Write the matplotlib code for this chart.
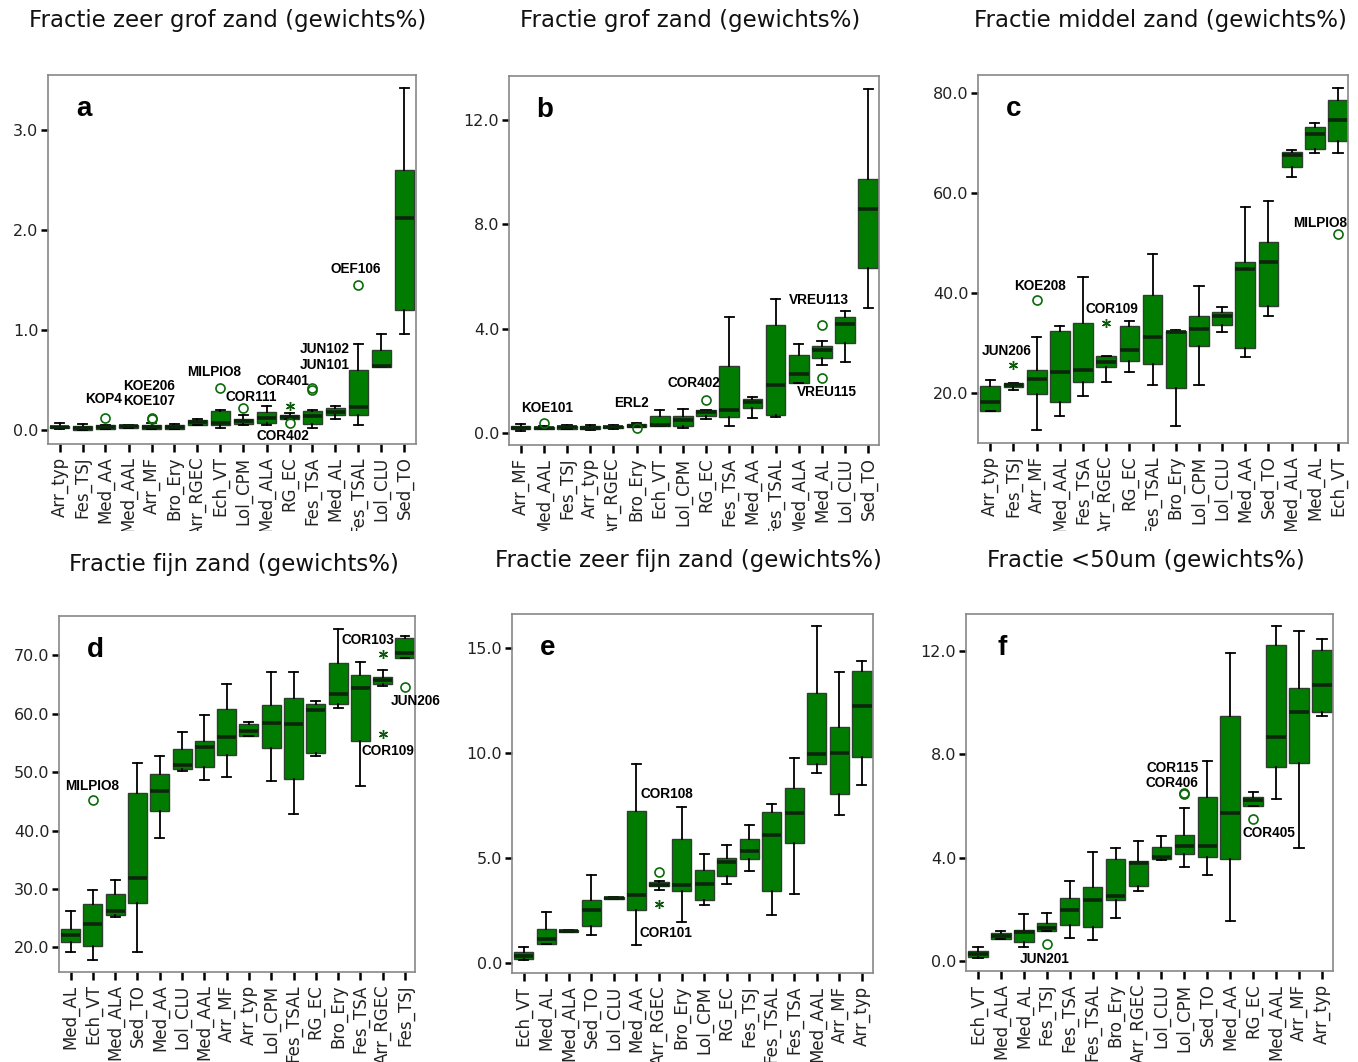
import matplotlib
matplotlib.use("Agg")
import matplotlib.pyplot as plt
from matplotlib.ticker import FormatStrFormatter
from matplotlib.transforms import Bbox

# ---- panel a: zeer grof zand ----
a_names = ["Arr_typ", "Fes_TSJ", "Med_AA", "Med_AAL", "Arr_MF", "Bro_Ery", "Arr_RGEC", "Ech_VT",
           "Lol_CPM", "Med_ALA", "RG_EC", "Fes_TSA", "Med_AL", "Fes_TSAL", "Lol_CLU", "Sed_TO"]
a_lo = [0.01, 0.0, 0.015, 0.02, 0.015, 0.015, 0.057, 0.02, 0.057, 0.053, 0.11, 0.02, 0.117, 0.057, 0.63, 0.963]
a_q1 = [0.02, 0.003, 0.017, 0.02, 0.017, 0.017, 0.057, 0.05, 0.06, 0.077, 0.113, 0.067, 0.157, 0.157, 0.63, 1.2]
a_med = [0.035, 0.02, 0.035, 0.04, 0.035, 0.035, 0.085, 0.077, 0.097, 0.12, 0.137, 0.143, 0.187, 0.23, 0.647, 2.123]
a_q3 = [0.045, 0.043, 0.05, 0.053, 0.05, 0.05, 0.103, 0.193, 0.117, 0.187, 0.157, 0.197, 0.227, 0.607, 0.8, 2.607]
a_hi = [0.07, 0.063, 0.055, 0.055, 0.07, 0.067, 0.117, 0.203, 0.157, 0.247, 0.17, 0.203, 0.247, 0.86, 0.963, 3.423]
a_out = [("Med_AA", 0.12, "o", "KOP4"), ("Arr_MF", 0.12, "o", "KOE206\nKOE107"), ("Arr_MF", 0.11, "o", ""),
         ("Ech_VT", 0.423, "o", "MILPIO8"), ("Lol_CPM", 0.223, "o", "COR111"),
         ("RG_EC", 0.243, "*", "COR401"), ("RG_EC", 0.07, "o", "COR402"),
         ("Fes_TSA", 0.423, "o", "JUN102\nJUN101"), ("Fes_TSA", 0.403, "o", ""),
         ("Fes_TSAL", 1.453, "o", "OEF106")]

# ---- panel b: grof zand ----
b_names = ["Arr_MF", "Med_AAL", "Fes_TSJ", "Arr_typ", "Arr_RGEC", "Bro_Ery", "Ech_VT", "Lol_CPM",
           "RG_EC", "Fes_TSA", "Med_AA", "Fes_TSAL", "Med_ALA", "Med_AL", "Lol_CLU", "Sed_TO"]
b_lo = [0.09, 0.14, 0.14, 0.13, 0.14, 0.24, 0.28, 0.18, 0.52, 0.27, 0.56, 0.6, 1.9, 2.59, 2.72, 4.77]
b_q1 = [0.15, 0.17, 0.17, 0.15, 0.18, 0.24, 0.28, 0.27, 0.65, 0.6, 0.94, 0.69, 1.93, 2.86, 3.43, 6.3]
b_med = [0.2, 0.2, 0.22, 0.2, 0.22, 0.28, 0.32, 0.51, 0.79, 0.88, 1.2, 1.82, 2.26, 3.16, 4.17, 8.58]
b_q3 = [0.28, 0.24, 0.27, 0.28, 0.27, 0.33, 0.66, 0.65, 0.87, 2.58, 1.3, 4.13, 2.97, 3.33, 4.44, 9.74]
b_hi = [0.33, 0.27, 0.32, 0.3, 0.32, 0.37, 0.87, 0.92, 0.88, 4.44, 1.39, 5.13, 3.41, 3.52, 4.68, 13.16]
b_out = [("Med_AAL", 0.4, "o", "KOE101"), ("Bro_Ery", 0.19, "o", "ERL2"), ("RG_EC", 1.25, "o", "COR402"),
         ("Med_AL", 4.13, "o", "VREU113"), ("Med_AL", 2.09, "o", "VREU115")]

# ---- panel c: middel zand ----
c_names = ["Arr_typ", "Fes_TSJ", "Arr_MF", "Med_AAL", "Fes_TSA", "Arr_RGEC", "RG_EC", "Fes_TSAL",
           "Bro_Ery", "Lol_CPM", "Lol_CLU", "Med_AA", "Sed_TO", "Med_ALA", "Med_AL", "Ech_VT"]
c_lo = [16.5, 20.7, 12.7, 15.5, 19.5, 22.3, 24.2, 21.7, 13.5, 21.7, 32.2, 27.3, 35.5, 63.3, 68.1, 68.1]
c_q1 = [16.5, 21.3, 19.8, 18.3, 22.3, 25.2, 26.5, 25.9, 21.1, 29.5, 33.7, 29.1, 37.5, 65.3, 68.8, 70.4]
c_med = [18.2, 21.7, 22.8, 24.3, 24.6, 26.3, 28.7, 31.3, 32.3, 32.8, 35.4, 44.8, 46.2, 67.7, 71.9, 74.6]
c_q3 = [21.4, 22.1, 24.7, 32.5, 34.0, 27.4, 33.5, 39.6, 32.5, 35.5, 36.3, 46.3, 50.3, 68.3, 73.2, 78.6]
c_hi = [22.7, 22.1, 31.2, 33.5, 43.2, 27.4, 34.5, 47.9, 32.7, 41.4, 37.3, 57.3, 58.5, 68.6, 74.0, 81.1]
c_out = [("Fes_TSJ", 25.7, "*", "JUN206"), ("Arr_MF", 38.7, "o", "KOE208"),
         ("Arr_RGEC", 34.1, "*", "COR109"), ("Ech_VT", 51.9, "o", "MILPIO8")]

# ---- panel d: fijn zand ----
d_names = ["Med_AL", "Ech_VT", "Med_ALA", "Sed_TO", "Med_AA", "Lol_CLU", "Med_AAL", "Arr_MF",
           "Arr_typ", "Lol_CPM", "Fes_TSAL", "RG_EC", "Bro_Ery", "Fes_TSA", "Arr_RGEC", "Fes_TSJ"]
d_lo = [19.3, 17.9, 25.2, 19.3, 38.7, 50.2, 48.6, 49.1, 56.1, 48.5, 42.8, 52.8, 60.9, 47.6, 64.8, 69.6]
d_q1 = [20.9, 20.3, 25.6, 27.6, 43.3, 50.5, 50.8, 52.9, 56.2, 54.2, 48.8, 53.3, 61.6, 55.4, 65.0, 69.6]
d_med = [22.2, 24.0, 26.3, 31.9, 46.7, 51.2, 54.3, 56.0, 57.1, 58.4, 58.3, 60.7, 63.4, 64.3, 65.7, 70.3]
d_q3 = [23.1, 27.5, 29.2, 46.5, 49.6, 54.0, 55.4, 60.8, 58.2, 61.4, 62.6, 61.6, 68.6, 66.6, 66.3, 72.9]
d_hi = [26.2, 29.8, 31.5, 51.6, 52.8, 56.9, 59.7, 65.0, 58.6, 67.1, 67.1, 62.2, 74.5, 68.9, 67.5, 73.3]
d_out = [("Ech_VT", 45.3, "o", "MILPIO8"), ("Arr_RGEC", 70.2, "*", "COR103"),
         ("Arr_RGEC", 56.5, "*", "COR109"), ("Fes_TSJ", 64.6, "o", "JUN206")]

# ---- panel e: zeer fijn zand ----
e_names = ["Ech_VT", "Med_AL", "Med_ALA", "Sed_TO", "Lol_CLU", "Med_AA", "Arr_RGEC", "Bro_Ery",
           "Lol_CPM", "RG_EC", "Fes_TSJ", "Fes_TSAL", "Fes_TSA", "Med_AAL", "Arr_MF", "Arr_typ"]
e_lo = [0.16, 0.92, 1.46, 1.35, 3.06, 0.87, 3.49, 1.93, 2.77, 3.77, 4.36, 2.3, 3.3, 9.07, 7.04, 8.47]
e_q1 = [0.19, 0.92, 1.46, 1.76, 3.06, 2.52, 3.65, 3.41, 2.98, 4.14, 4.96, 3.41, 5.72, 9.48, 8.05, 9.83]
e_med = [0.35, 1.14, 1.52, 2.5, 3.09, 3.22, 3.73, 3.73, 3.76, 4.8, 5.31, 6.07, 7.13, 9.94, 9.99, 12.24]
e_q3 = [0.52, 1.63, 1.57, 3.0, 3.12, 7.23, 3.85, 5.91, 4.44, 4.98, 5.91, 7.17, 8.34, 12.87, 11.26, 13.89]
e_hi = [0.75, 2.41, 1.57, 4.2, 3.12, 9.48, 3.92, 7.45, 5.2, 5.61, 6.56, 7.59, 9.78, 16.05, 13.87, 14.37]
e_out = [("Arr_RGEC", 4.31, "o", "COR108"), ("Arr_RGEC", 2.82, "*", "COR101")]

# ---- panel f: <50um ----
f_names = ["Ech_VT", "Med_ALA", "Med_AL", "Fes_TSJ", "Fes_TSA", "Fes_TSAL", "Bro_Ery", "Arr_RGEC",
           "Lol_CLU", "Lol_CPM", "Sed_TO", "Med_AA", "RG_EC", "Med_AAL", "Arr_MF", "Arr_typ"]
f_lo = [0.12, 0.86, 0.53, 1.16, 0.88, 0.81, 1.65, 2.71, 3.91, 3.62, 3.33, 1.55, 6.01, 6.26, 4.38, 9.49]
f_q1 = [0.14, 0.86, 0.73, 1.16, 1.39, 1.3, 2.36, 2.91, 3.94, 4.14, 4.03, 3.96, 6.01, 7.51, 7.64, 9.62]
f_med = [0.27, 0.95, 1.1, 1.28, 1.97, 2.35, 2.5, 3.8, 4.03, 4.46, 4.46, 5.74, 6.21, 8.66, 9.62, 10.66]
f_q3 = [0.4, 1.07, 1.21, 1.46, 2.42, 2.87, 3.93, 3.87, 4.42, 4.87, 6.35, 9.47, 6.35, 12.23, 10.54, 12.03]
f_hi = [0.53, 1.16, 1.8, 1.84, 3.09, 4.2, 4.36, 4.65, 4.83, 5.93, 7.75, 11.9, 6.55, 12.95, 12.76, 12.46]
f_out = [("Fes_TSJ", 0.64, "o", "JUN201"), ("Lol_CPM", 6.46, "o", "COR115\nCOR406"),
         ("Lol_CPM", 6.5, "o", ""), ("RG_EC", 5.5, "o", "COR405")]

titles = ["Fractie zeer grof zand (gewichts%)", "Fractie grof zand (gewichts%)",
          "Fractie middel zand (gewichts%)", "Fractie fijn zand (gewichts%)",
          "Fractie zeer fijn zand (gewichts%)", "Fractie <50um (gewichts%)"]
yticks = {"a": [0, 1, 2, 3], "b": [0, 4, 8, 12], "c": [20, 40, 60, 80],
          "d": [20, 30, 40, 50, 60, 70], "e": [0, 5, 10, 15], "f": [0, 4, 8, 12]}

# layout in pixels: axes (left, right, top, bottom), title centre, y-limits, label offsets
W, H = 1358, 1062
axes_px = {"a": (48, 416, 75, 444), "b": (509, 879, 76, 445), "c": (978, 1348, 75, 443),
           "d": (59, 415, 616, 972), "e": (512, 873, 614, 973), "f": (966, 1333, 614, 971)}
title_px = {"a": (228, 20), "b": (690, 21), "c": (1160, 20),
            "d": (234, 564), "e": (688, 561), "f": (1146, 561)}
ylims = {"a": (-0.137, 3.553), "b": (-0.46, 13.67), "c": (10.0, 83.7),
         "d": (15.8, 76.7), "e": (-0.48, 16.62), "f": (-0.39, 13.42)}
xlims = {"a": (0.5, 16.5), "b": (0.5, 16.46), "c": (0.47, 16.43),
         "d": (0.48, 16.45), "e": (0.48, 16.49), "f": (0.48, 16.48)}
label_offsets = {
    "a": {"KOP4": (-2, 19), "KOE206\nKOE107": (-2, 25), "MILPIO8": (-6, 16), "COR111": (8, 11),
          "COR401": (-7, 25), "COR402": (-7, -13), "JUN102\nJUN101": (12, 31), "OEF106": (-3, 16)},
    "b": {"KOE101": (3, 15), "ERL2": (-5, 25), "COR402": (-12, 17), "VREU113": (-3, 25),
          "VREU115": (5, -14)},
    "c": {"JUN206": (-7, 14), "KOE208": (3, 14), "COR109": (6, 14), "MILPIO8": (-18, 11)},
    "d": {"MILPIO8": (-1, 14), "COR103": (-15, 14), "COR109": (5, -17), "JUN206": (11, -14)},
    "e": {"COR108": (8, 78), "COR101": (7, -29)},
    "f": {"JUN201": (-2, -15), "COR115\nCOR406": (-12, 18), "COR405": (16, -14)},
}

GREEN = "#007c00"
panels = {
    "a": (a_names, a_lo, a_q1, a_med, a_q3, a_hi, a_out),
    "b": (b_names, b_lo, b_q1, b_med, b_q3, b_hi, b_out),
    "c": (c_names, c_lo, c_q1, c_med, c_q3, c_hi, c_out),
    "d": (d_names, d_lo, d_q1, d_med, d_q3, d_hi, d_out),
    "e": (e_names, e_lo, e_q1, e_med, e_q3, e_hi, e_out),
    "f": (f_names, f_lo, f_q1, f_med, f_q3, f_hi, f_out),
}

fig = plt.figure(figsize=(W / 100, H / 100), dpi=100)
top_clip = Bbox.from_extents(0, H - 531, W, H)

for (key, data), title in zip(panels.items(), titles):
    names, lo, q1, med, q3, hi, outs = data
    left, right, top, bottom = axes_px[key]
    ax = fig.add_axes([left / W, 1 - bottom / H, (right - left) / W, (bottom - top) / H])

    stats = [dict(label=n, whislo=l, q1=b1, med=m, q3=b3, whishi=h, fliers=[])
             for n, l, b1, m, b3, h in zip(names, lo, q1, med, q3, hi)]
    pos = list(range(1, len(names) + 1))
    ax.bxp(stats, positions=pos, widths=0.85, capwidths=0.4, patch_artist=True,
           showfliers=False, manage_ticks=False,
           boxprops=dict(facecolor=GREEN, edgecolor="#2f3f2f", linewidth=1.0),
           medianprops=dict(color="#0b260b", linewidth=2.6, solid_capstyle="butt"),
           whiskerprops=dict(color="black", linewidth=1.3),
           capprops=dict(color="black", linewidth=1.3))

    for cat, val, kind, label in outs:
        x = names.index(cat) + 1
        if kind == "o":
            ax.plot(x, val, "o", mfc="none", mec="#0a6a0a", ms=6.5, mew=1.2, zorder=4)
        else:
            ax.plot(x, val, marker=(6, 2, 0), color="#0a5a0a", ms=6.5, mew=1.0, ls="none", zorder=4)
        if label:
            ax.annotate(label, (x, val), xytext=label_offsets[key][label],
                        textcoords="offset pixels", ha="center", va="center",
                        fontsize=9.8, fontweight="bold", family="Liberation Sans",
                        linespacing=1.1, zorder=5)

    ax.set_xlim(*xlims[key])
    ax.set_ylim(*ylims[key])
    ax.set_xticks(pos)
    ax.set_xticklabels(names, rotation=90, fontsize=12, color="#222222")
    ax.set_yticks(yticks[key])
    ax.yaxis.set_major_formatter(FormatStrFormatter("%.1f"))
    ax.tick_params(axis="y", labelsize=11.5, labelcolor="#222222", length=5, width=1.8, pad=2)
    ax.tick_params(axis="x", length=6, width=1.8, pad=3)
    for sp in ax.spines.values():
        sp.set_color("#888888")
        sp.set_linewidth(1.2)

    ax.annotate(key, xy=(0, 1), xycoords="axes fraction", xytext=(36, -34),
                textcoords="offset pixels", ha="center", va="center",
                fontsize=20, fontweight="bold", family="Liberation Sans")

    tx, ty = title_px[key]
    fig.text(tx / W, 1 - ty / H, title, ha="center", va="center", fontsize=16.5, color="#111111")

    if key in "abc":
        for lbl in ax.get_xticklabels():
            lbl.set_clip_box(top_clip)
            lbl.set_clip_on(True)

fig.savefig("out.png", dpi=100, facecolor="white")
